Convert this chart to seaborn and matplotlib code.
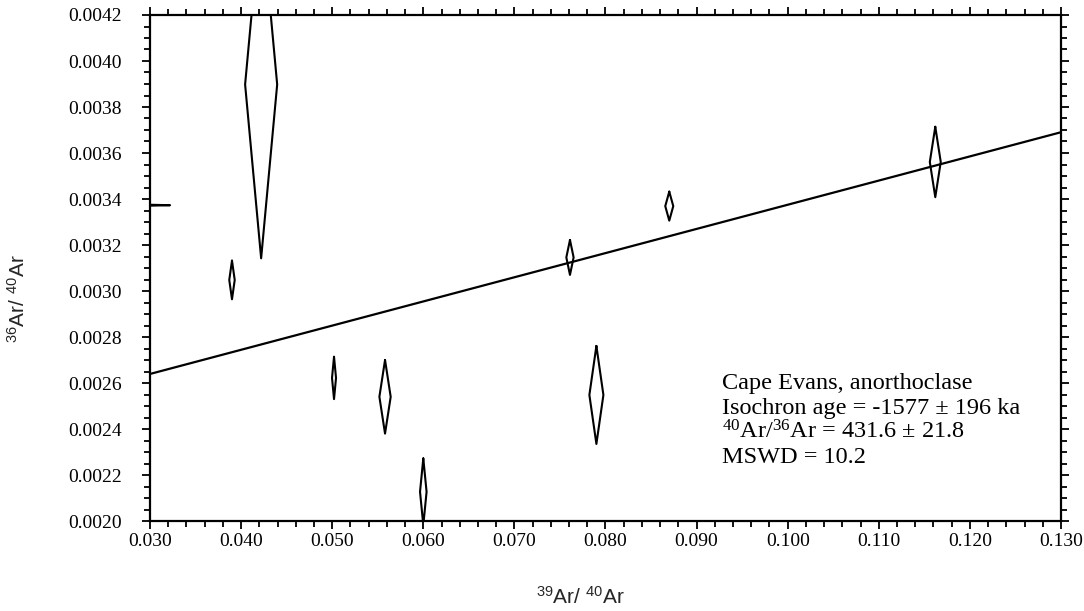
import numpy as np
import pandas as pd
import matplotlib
matplotlib.use("Agg")
import matplotlib.pyplot as plt
import seaborn as sns
from matplotlib.ticker import MultipleLocator, FormatStrFormatter

# step-heating points: centre and half-widths of the error diamonds
x_centro = [0.0422, 0.0390, 0.0502, 0.0558, 0.0600, 0.0761, 0.0790, 0.0870, 0.1162, 0.0300]
y_centro = [0.003898, 0.003048, 0.002622, 0.002540, 0.002127, 0.003146, 0.002548, 0.003369, 0.003561, 0.003373]
x_erro = [0.00176, 0.00030, 0.00022, 0.00062, 0.00036, 0.00040, 0.00077, 0.00044, 0.00060, 0.00220]
y_erro = [0.000756, 0.000084, 0.000092, 0.000160, 0.000145, 0.000076, 0.000213, 0.000063, 0.000153, 0.000002]

# isochron fit
intercepto = 0.002324
inclinacao = 0.01051
x_range = [0.030, 0.130]
y_range = [0.0020, 0.0042]

legenda = [
    "Cape Evans, anorthoclase",
    "Isochron age = -1577 ± 196 ka",
    r"$\mathregular{^{40}}$Ar/$\mathregular{^{36}}$Ar = 431.6 ± 21.8",
    "MSWD = 10.2",
]

# diamond outlines as one long dataframe
linhas = []
for i, (cx, cy, dx, dy) in enumerate(zip(x_centro, y_centro, x_erro, y_erro)):
    vx = [cx, cx + dx, cx, cx - dx, cx]
    vy = [cy + dy, cy, cy - dy, cy, cy + dy]
    for ordem, (a, b) in enumerate(zip(vx, vy)):
        linhas.append({"id": i, "ordem": ordem, "x": a, "y": b})
df_diam = pd.DataFrame(linhas)

df_reta = pd.DataFrame({"x": x_range})
df_reta["y"] = intercepto + inclinacao * df_reta["x"]

sns.set_theme(style="ticks")
plt.rcParams["font.family"] = ["Liberation Serif", "DejaVu Serif"]
plt.rcParams["mathtext.fontset"] = "custom"

fig, ax = plt.subplots(figsize=(10.84, 6.11), dpi=100)
fig.subplots_adjust(left=150/1084, right=1061/1084, top=1-15/611, bottom=1-521/611)

sns.lineplot(data=df_diam, x="x", y="y", units="id", estimator=None, sort=False,
             color="black", linewidth=1.5, ax=ax)
sns.lineplot(data=df_reta, x="x", y="y", color="black", linewidth=1.6, ax=ax)

ax.set_xlim(*x_range)
ax.set_ylim(*y_range)

ax.xaxis.set_major_locator(MultipleLocator(0.010))
ax.xaxis.set_minor_locator(MultipleLocator(0.002))
ax.yaxis.set_major_locator(MultipleLocator(0.0002))
ax.yaxis.set_minor_locator(MultipleLocator(0.00005))
ax.xaxis.set_major_formatter(FormatStrFormatter("%.3f"))
ax.yaxis.set_major_formatter(FormatStrFormatter("%.4f"))

ax.tick_params(which="both", direction="out", top=True, right=True, color="black",
               width=1.3, labelsize=14, labelcolor="black")
ax.tick_params(which="major", length=6)
ax.tick_params(which="minor", length=4)
ax.tick_params(axis="y", which="major", pad=14)
ax.tick_params(axis="x", which="major", pad=3)
for s in ax.spines.values():
    s.set_linewidth(1.6)
    s.set_color("black")

ax.set_xlabel(r"$\mathregular{^{39}}$Ar/ $\mathregular{^{40}}$Ar",
              family=["Liberation Sans"], fontsize=15)
ax.set_ylabel(r"$\mathregular{^{36}}$Ar/ $\mathregular{^{40}}$Ar",
              family=["Liberation Sans"], fontsize=15)
ax.xaxis.label.set_va("center")
ax.yaxis.label.set_va("center")
ax.xaxis.set_label_coords(0.472, -0.150)
ax.yaxis.set_label_coords(-0.145, 0.44)

for k, txt in enumerate(legenda):
    ax.text(0.628, 0.261 - k * 0.049, txt, transform=ax.transAxes,
            fontsize=17.5, va="baseline", ha="left", color="black")

plt.savefig("out.png", dpi=100)
